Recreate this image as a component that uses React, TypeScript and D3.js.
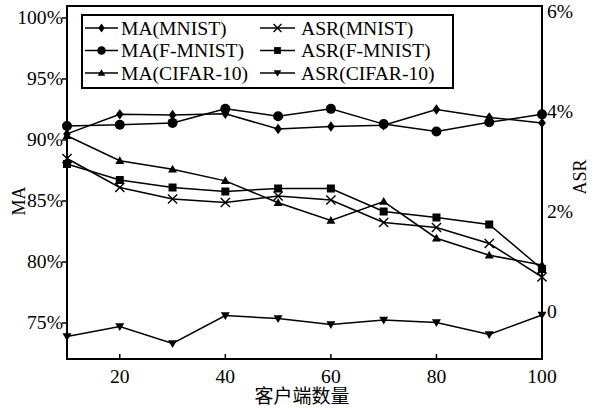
import React from "react";
import * as d3 from "d3";

const clients = [10, 20, 30, 40, 50, 60, 70, 80, 90, 100];
const maMnist = [90.5, 92.1, 92.05, 92.15, 90.9, 91.1, 91.2, 92.5, 91.85, 91.4];
const maFmnist = [91.15, 91.25, 91.4, 92.55, 91.95, 92.55, 91.3, 90.7, 91.45, 92.1];
const maCifar = [90.35, 88.3, 87.6, 86.65, 84.85, 83.4, 84.95, 81.95, 80.55, 79.75];
const asrMnist = [3.07, 2.49, 2.26, 2.19, 2.32, 2.24, 1.79, 1.69, 1.37, 0.7];
const asrFmnist = [2.96, 2.64, 2.49, 2.41, 2.47, 2.47, 2.01, 1.89, 1.75, 0.86];
const asrCifar = [-0.49, -0.29, -0.63, -0.07, -0.13, -0.25, -0.16, -0.21, -0.45, -0.06];

const xTicks = [20, 40, 60, 80, 100];
const maTicks = [75, 80, 85, 90, 95, 100];
const maTickLabels = ["75%", "80%", "85%", "90%", "95%", "100%"];
const asrTicks = [0, 2, 4, 6];
const asrTickLabels = ["0", "2%", "4%", "6%"];

type MarkerKind = "diamond" | "circle" | "triangle" | "x" | "square" | "down";

const seriesNames = ["MA(MNIST)", "ASR(MNIST)", "MA(F-MNIST)", "ASR(F-MNIST)", "MA(CIFAR-10)", "ASR(CIFAR-10)"];

const W = 595;
const H = 408;
const L = 67, R = 542, T = 6, B = 359;
const SX = 1.09;
const FONT = '"Liberation Serif", "DejaVu Serif", serif';

function markerPath(kind: MarkerKind, s = 1): string {
  switch (kind) {
    case "diamond": {
      const w = 3.8 * s, h = 5.2 * s;
      return `M0,${-h}L${w},0L0,${h}L${-w},0Z`;
    }
    case "circle": {
      const r = 5 * s;
      return `M${r},0A${r},${r} 0 1,1 ${-r},0A${r},${r} 0 1,1 ${r},0Z`;
    }
    case "square": {
      const a = 4 * s;
      return `M${-a},${-a}H${a}V${a}H${-a}Z`;
    }
    case "triangle": {
      const w = 4.5 * s;
      return `M0,${-4.5 * s}L${w},${3.2 * s}L${-w},${3.2 * s}Z`;
    }
    case "down": {
      const w = 4.5 * s;
      return `M0,${4.5 * s}L${w},${-3.2 * s}L${-w},${-3.2 * s}Z`;
    }
    case "x": {
      const a = 4.6 * s;
      return `M${-a},${-a}L${a},${a}M${-a},${a}L${a},${-a}`;
    }
  }
}

function Marker({ kind, x, y, s = 1 }: { kind: MarkerKind; x: number; y: number; s?: number }) {
  const d = markerPath(kind, s);
  if (kind === "x") {
    return <path d={d} transform={`translate(${x},${y})`} fill="none" stroke="#000" strokeWidth={1.4} />;
  }
  return <path d={d} transform={`translate(${x},${y})`} fill="#000" stroke="none" />;
}

function T_({ x, y, anchor = "start", size = 18, rotate = false, children }: any) {
  return (
    <g transform={`translate(${x},${y}) scale(${SX},1)${rotate ? " rotate(-90)" : ""}`}>
      <text textAnchor={anchor} style={{ fontFamily: FONT, fontSize: size + "px" }} fill="#000">
        {children}
      </text>
    </g>
  );
}

export default function App() {
  const x = d3.scaleLinear().domain([10, 100]).range([L, R]);
  const yL = d3.scaleLinear().domain([72.05, 100.98]).range([B, T]);
  const yR = d3.scaleLinear().domain([-0.94, 6.12]).range([B, T]);

  const series: { vals: number[]; kind: MarkerKind; axis: "L" | "R" }[] = [
    { vals: maMnist, kind: "diamond", axis: "L" },
    { vals: asrMnist, kind: "x", axis: "R" },
    { vals: maFmnist, kind: "circle", axis: "L" },
    { vals: asrFmnist, kind: "square", axis: "R" },
    { vals: maCifar, kind: "triangle", axis: "L" },
    { vals: asrCifar, kind: "down", axis: "R" },
  ];

  const legendRows = [28, 50.5, 73];
  const legendCols = [{ x1: 85, x2: 118, tx: 121 }, { x1: 260, x2: 295, tx: 301 }];

  return (
    <svg width={W} height={H} style={{ position: "absolute", left: 0, top: 0, background: "#fff" }}>
      <rect x={0} y={0} width={W} height={H} fill="#fff" />
      {series.map((s, i) => {
        const ys = s.axis === "L" ? yL : yR;
        const line = d3.line<number>().x((_, j) => x(clients[j])).y((v) => ys(v));
        return <path key={"l" + i} d={line(s.vals) || ""} fill="none" stroke="#000" strokeWidth={1.5} />;
      })}
      {series.map((s, i) => {
        const ys = s.axis === "L" ? yL : yR;
        return (
          <g key={"m" + i}>
            {s.vals.map((v, j) => (
              <Marker key={j} kind={s.kind} x={x(clients[j])} y={ys(v)} />
            ))}
          </g>
        );
      })}
      <rect x={L} y={T} width={R - L} height={B - T} fill="none" stroke="#000" strokeWidth={2} />
      {maTicks.map((t, i) => (
        <g key={"lt" + i}>
          <line x1={L - 5} x2={L} y1={yL(t)} y2={yL(t)} stroke="#000" strokeWidth={1.5} />
          <T_ x={63} y={yL(t) + 6} anchor="end">{maTickLabels[i]}</T_>
        </g>
      ))}
      {asrTicks.map((t, i) => (
        <T_ key={"rt" + i} x={547} y={yR(t) + 6} anchor="start">{asrTickLabels[i]}</T_>
      ))}
      {xTicks.map((t, i) => (
        <g key={"xt" + i}>
          <line x1={x(t)} x2={x(t)} y1={B} y2={B - 5} stroke="#000" strokeWidth={1.5} />
          <T_ x={x(t)} y={383} anchor="middle">{String(t)}</T_>
        </g>
      ))}
      <T_ x={25} y={201} anchor="middle" rotate>MA</T_>
      <T_ x={586} y={177} anchor="middle" rotate>ASR</T_>
      <text x={302} y={403} textAnchor="middle" style={{ fontFamily: '"Noto Sans CJK SC", sans-serif', fontSize: "19px" }} fill="#000">客户端数量</text>
      <rect x={82} y={15} width={371} height={73} fill="#fff" stroke="#000" strokeWidth={2} />
      {series.map((s, i) => {
        const col = legendCols[i % 2];
        const ry = legendRows[Math.floor(i / 2)];
        return (
          <g key={"lg" + i}>
            <line x1={col.x1} x2={col.x2} y1={ry} y2={ry} stroke="#000" strokeWidth={1.5} />
            <Marker kind={s.kind} x={(col.x1 + col.x2) / 2} y={ry} s={0.85} />
            <T_ x={col.tx} y={ry + 6.5} anchor="start">{seriesNames[i]}</T_>
          </g>
        );
      })}
    </svg>
  );
}
